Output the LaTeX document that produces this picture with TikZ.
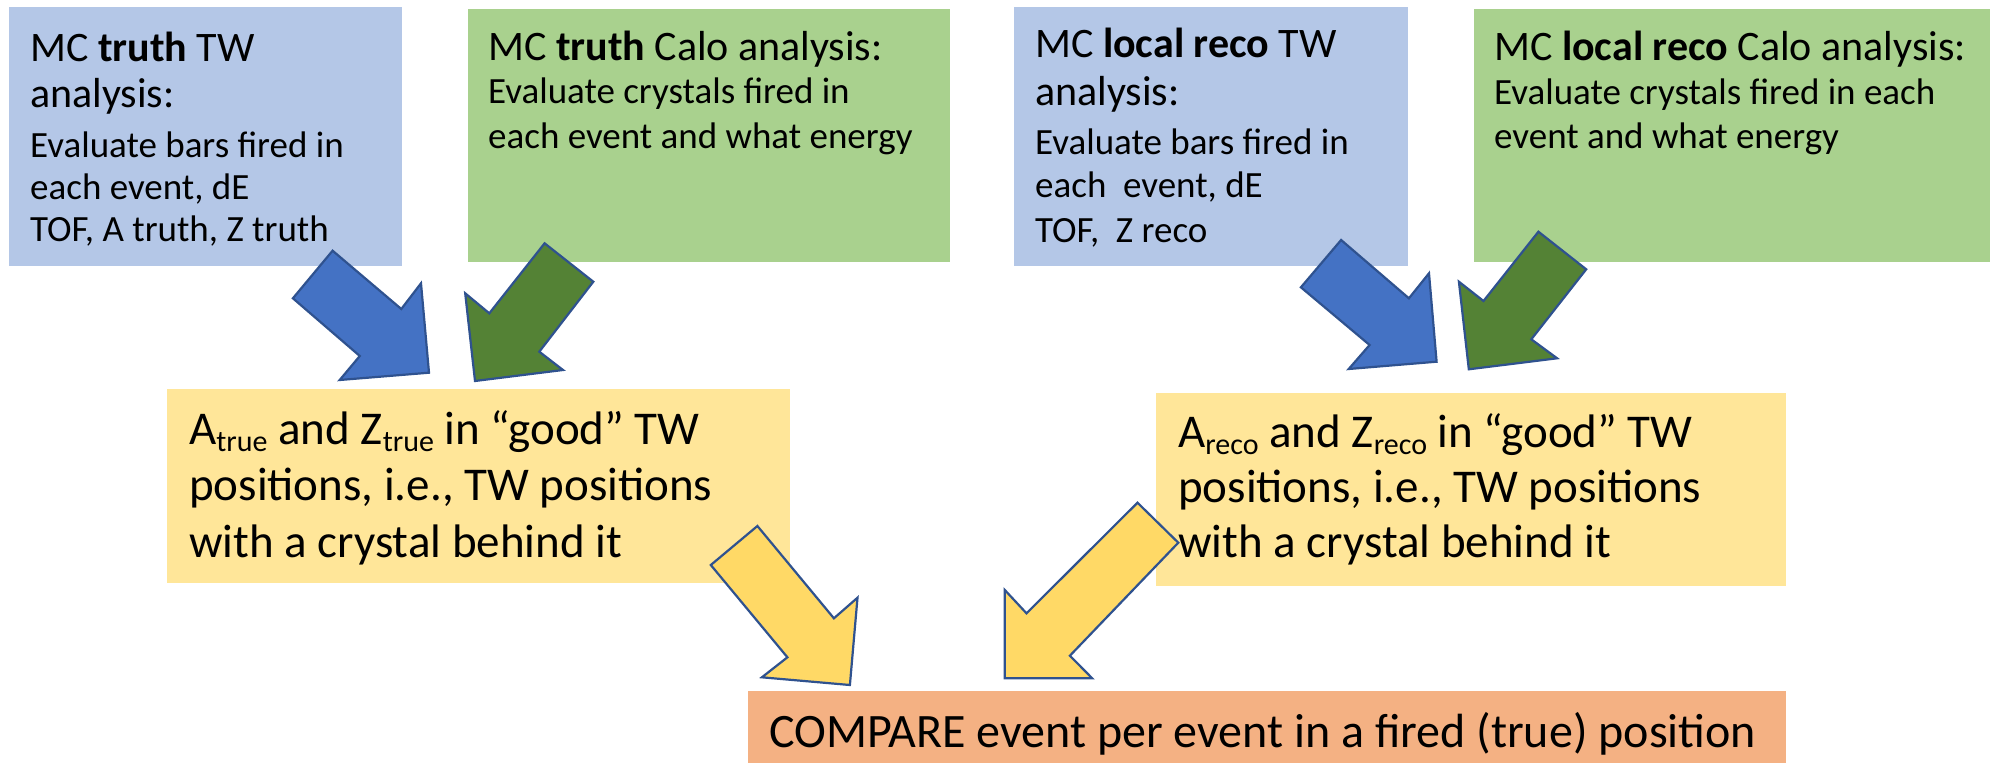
\documentclass[tikz,border=0pt]{standalone}
\usepackage{fontspec}
\setmainfont{Carlito}
\definecolor{boxblue}{HTML}{B4C7E7}
\definecolor{boxgreen}{HTML}{A9D18E}
\definecolor{boxyellow}{HTML}{FFE699}
\definecolor{boxorange}{HTML}{F4B183}
\definecolor{arrblue}{HTML}{4472C4}
\definecolor{arrgreen}{HTML}{548235}
\definecolor{arryellow}{HTML}{FFD966}
\definecolor{arrline}{HTML}{2F528F}
\newcommand\sbs[1]{\raisebox{-0.16em}{\fontsize{30}{30}\selectfont #1}}
\begin{document}
\begin{tikzpicture}[x=1pt,y=-1pt,
  box/.style={draw=none,inner sep=0pt,outer sep=0pt,anchor=north west},
  ln/.style={anchor=base west,inner sep=0pt,text=black},
  ttl/.style={ln,font=\fontsize{42}{46}\selectfont},
  sml/.style={ln,font=\fontsize{37}{42}\selectfont},
  big/.style={ln,font=\fontsize{47}{56}\selectfont},
  blk/.style={draw=arrline,line width=2.2pt,line join=miter}]
\useasboundingbox (0,0) rectangle (2010,763);
% boxes
\node[box,fill=boxblue,minimum width=393pt,minimum height=259pt] (tw1) at (9,7) {};
\node[box,fill=boxgreen,minimum width=482pt,minimum height=253pt] (ca1) at (468,9) {};
\node[box,fill=boxblue,minimum width=394pt,minimum height=259pt] (tw2) at (1014,7) {};
\node[box,fill=boxgreen,minimum width=516pt,minimum height=253pt] (ca2) at (1474,9) {};
\node[box,fill=boxyellow,minimum width=623pt,minimum height=194pt] (ye1) at (167,389) {};
\node[box,fill=boxyellow,minimum width=630pt,minimum height=193pt] (ye2) at (1156,393) {};
\node[box,fill=boxorange,minimum width=1038pt,minimum height=72pt] (cmp) at (748,691) {};
% block arrows
\draw[blk,fill=arrblue] (332.6,250.7) -- (401.3,309) -- (421,283.3) -- (429,372.7) -- (339.7,380) -- (359.8,356) -- (292.9,298.3) -- cycle;
\draw[blk,fill=arrgreen] (544.6,243.3) -- (593.3,281.7) -- (539.3,351.7) -- (563,370) -- (475,381) -- (465.2,293.3) -- (489.3,313.3) -- cycle;
\draw[blk,fill=arrblue] (1341.1,240) -- (1408.9,298.3) -- (1429,273.3) -- (1436.6,361.7) -- (1348.7,369) -- (1369.6,345) -- (1300.9,287.3) -- cycle;
\draw[blk,fill=arrgreen] (1538.4,231.7) -- (1586.2,269.3) -- (1531.3,339.3) -- (1557.1,358.3) -- (1468.8,369.3) -- (1458.9,281.7) -- (1483.5,301) -- cycle;
\draw[blk,fill=arryellow] (757.4,526) -- (710.8,565) -- (787.4,657.3) -- (761.9,677.3) -- (849.9,685) -- (857.5,597.7) -- (833.9,618.3) -- cycle;
\draw[blk,fill=arryellow] (1137.5,502.7) -- (1178.3,542.7) -- (1069.9,655.7) -- (1092.2,678.3) -- (1004.8,678.3) -- (1004.8,590) -- (1026.5,613.3) -- cycle;
% texts: MC truth TW
\node[ttl] (t1a) at (30,61) {MC \textbf{truth} TW};
\node[ttl] (t1b) at (30,107) {analysis:};
\node[sml] (t1c) at (30,157) {Evaluate bars fired in};
\node[sml] (t1d) at (30,199) {each event, dE};
\node[sml] (t1e) at (30,241) {TOF, A truth, Z truth};
% MC truth Calo
\node[ttl] (c1a) at (488,60) {MC \textbf{truth} Calo analysis:};
\node[sml] (c1b) at (488,103) {Evaluate crystals fired in};
\node[sml] (c1c) at (488,148) {each event and what energy};
% MC local reco TW
\node[ttl] (t2a) at (1035,57) {MC \textbf{local reco} TW};
\node[ttl] (t2b) at (1035,105) {analysis:};
\node[sml] (t2c) at (1035,154) {Evaluate bars fired in};
\node[sml] (t2d) at (1035,197) {each\ \ event, dE};
\node[sml] (t2e) at (1035,242) {TOF,\ \ Z reco};
% MC local reco Calo
\node[ttl] (c2a) at (1494,60) {MC \textbf{local reco} Calo analysis:};
\node[sml] (c2b) at (1494,104) {Evaluate crystals fired in each};
\node[sml] (c2c) at (1494,148) {event and what energy};
% yellow boxes
\node[big] (y1a) at (189,444) {A\sbs{true} and Z\sbs{true} in “good” TW};
\node[big] (y1b) at (189,500) {positions, i.e., TW positions};
\node[big] (y1c) at (189,557) {with a crystal behind it};
\node[big] (y2a) at (1178,447) {A\sbs{reco} and Z\sbs{reco} in “good” TW};
\node[big] (y2b) at (1178,502) {positions, i.e., TW positions};
\node[big] (y2c) at (1178,557) {with a crystal behind it};
% compare
\node[big,font=\fontsize{48}{56}\selectfont] (cmpt) at (769,747) {COMPARE event per event in a fired (true) position};
\end{tikzpicture}
\end{document}
